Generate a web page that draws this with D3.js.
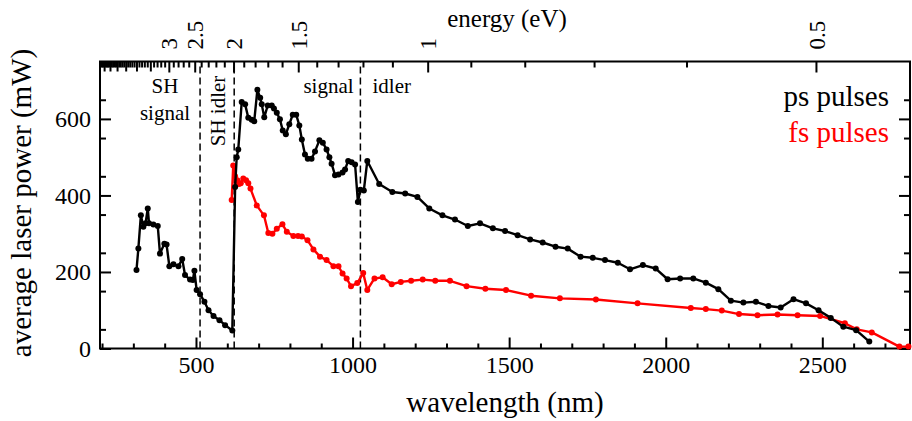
<!DOCTYPE html>
<html>
<head>
<meta charset="utf-8">
<script src="https://cdn.jsdelivr.net/npm/d3@7"></script>
<style>
  body { margin: 0; background: #fff; }
</style>
</head>
<body>
<div id="chart"></div>
<script>
// ps pulses (black)
const psWavelength = [310, 316, 324, 332, 339, 346, 350, 364, 378, 385, 399, 406, 415, 428, 444, 456, 465, 481, 490, 495,
  502, 513, 527, 540, 556, 575, 593, 616, 625, 630, 635, 646, 657, 667, 678, 686, 696, 705, 710, 718,
  729, 742, 749, 758, 768, 777, 787, 798, 809, 820, 830, 838, 848, 857, 869, 880, 894, 905, 917, 926,
  933, 944, 955, 968, 976, 986, 997, 1008, 1017, 1025, 1036, 1047, 1085, 1127, 1168, 1207, 1245, 1287, 1327, 1368,
  1407, 1448, 1487, 1527, 1567, 1607, 1648, 1687, 1728, 1767, 1806, 1847, 1886, 1927, 1968, 2006, 2046, 2088, 2128, 2168,
  2208, 2248, 2288, 2328, 2367, 2408, 2448, 2488, 2527, 2567, 2608, 2650];
const psPower = [205, 261, 348, 318, 327, 366, 327, 324, 320, 248, 274, 272, 215, 220, 215, 234, 192, 180, 179, 203,
  153, 142, 122, 100, 85, 74, 61, 47, 422, 500, 520, 644, 638, 603, 598, 594, 676, 655, 638, 604,
  635, 635, 627, 616, 599, 570, 560, 586, 611, 611, 583, 546, 507, 496, 496, 515, 544, 538, 520, 500,
  483, 453, 455, 460, 468, 490, 487, 481, 383, 415, 413, 490, 430, 409, 405, 396, 366, 348, 337, 320,
  327, 314, 307, 296, 285, 277, 266, 261, 240, 237, 231, 224, 207, 218, 209, 181, 183, 183, 172, 155,
  125, 120, 122, 111, 107, 129, 118, 100, 80, 57, 48, 18];

// fs pulses (red)
const fsWavelength = [614, 619, 625, 632, 637, 643, 651, 660, 667, 674, 694, 717, 731, 744, 758, 776, 790, 811, 826, 838,
  856, 875, 896, 917, 939, 955, 968, 981, 995, 1015, 1034, 1047, 1070, 1096, 1125, 1154, 1187, 1224, 1264, 1311,
  1364, 1424, 1490, 1570, 1662, 1777, 1910, 2080, 2128, 2179, 2234, 2293, 2357, 2421, 2493, 2572, 2610, 2658, 2746, 2775];
const fsPower = [388, 478, 450, 440, 430, 432, 444, 440, 432, 418, 374, 348, 302, 300, 313, 325, 305, 294, 294, 293,
  283, 259, 240, 231, 215, 215, 196, 183, 163, 171, 197, 153, 183, 186, 168, 174, 177, 180, 177, 177,
  163, 156, 153, 138, 131, 128, 118, 106, 103, 99, 90, 87, 89, 87, 85, 66, 50, 42, 5, 5];

const wavelengthTicks = [500, 1000, 1500, 2000, 2500];
const energyTicks = [3, 2.5, 2, 1.5, 1, 0.5];
const powerTicks = [0, 200, 400, 600];
const regionBounds = [513, 622, 1025];

const hc = 1239.84; // eV * nm
const serif = '"Liberation Serif", "Times New Roman", serif';

const width = 912;
const height = 421;
const plot = { left: 100, right: 910, top: 61.5, bottom: 348.5 };

const svg = d3.select('#chart')
  .append('svg')
  .attr('width', width)
  .attr('height', height)
  .attr('font-family', serif);

const x = d3.scaleLinear().domain([193.5, 2780]).range([plot.left, plot.right]);
const y = d3.scaleLinear().domain([0, 750]).range([plot.bottom, plot.top]);

function styleAxis(g) {
  g.attr('font-family', serif);
  g.select('.domain').remove();
  g.selectAll('line').attr('stroke', '#000').attr('stroke-width', 2);
  g.selectAll('text')
    .style('font-family', serif)
    .style('font-size', '24px')
    .attr('fill', '#000');
}

function addText(tx, ty, str, size, opts = {}) {
  return svg.append('text')
    .attr('transform', opts.rotate ? `translate(${tx},${ty}) rotate(-90)` : `translate(${tx},${ty})`)
    .attr('text-anchor', opts.anchor || 'middle')
    .attr('dy', opts.dy || null)
    .style('font-family', serif)
    .style('font-size', size)
    .style('fill', opts.color || '#000')
    .text(str);
}

// bottom axis
svg.append('g')
  .attr('transform', `translate(0,${plot.bottom})`)
  .call(d3.axisBottom(x).tickValues(d3.range(200, 2780, 100).filter(d => d % 500)).tickSize(-5).tickFormat(''))
  .call(styleAxis);
svg.append('g')
  .attr('transform', `translate(0,${plot.bottom})`)
  .call(d3.axisBottom(x).tickValues(wavelengthTicks).tickSize(-11).tickPadding(7).tickFormat(d3.format('d')))
  .call(styleAxis);

// left / right axes
svg.append('g')
  .attr('transform', `translate(${plot.left},0)`)
  .call(d3.axisLeft(y).tickValues(d3.range(50, 750, 100)).tickSize(-6).tickFormat(''))
  .call(styleAxis);
svg.append('g')
  .attr('transform', `translate(${plot.left},0)`)
  .call(d3.axisLeft(y).tickValues(powerTicks).tickSize(-11).tickPadding(9).tickFormat(d3.format('d')))
  .call(styleAxis);
svg.append('g')
  .attr('transform', `translate(${plot.right},0)`)
  .call(d3.axisRight(y).tickValues(d3.range(50, 750, 100)).tickSize(-6).tickFormat(''))
  .call(styleAxis);
svg.append('g')
  .attr('transform', `translate(${plot.right},0)`)
  .call(d3.axisRight(y).tickValues(powerTicks).tickSize(-11).tickFormat(''))
  .call(styleAxis);

// top axis: photon energy
const energyMinor = d3.range(5, 64).map(d => d / 10).filter(e => Math.round(e * 10) % 5 !== 0);
const energyHalf = d3.range(3.5, 6.5, 0.5);
svg.append('g')
  .attr('transform', `translate(0,${plot.top})`)
  .call(d3.axisTop(x).tickValues(energyMinor.map(e => hc / e)).tickSize(-6).tickFormat(''))
  .call(styleAxis);
svg.append('g')
  .attr('transform', `translate(0,${plot.top})`)
  .call(d3.axisTop(x).tickValues(energyHalf.map(e => hc / e)).tickSize(-10).tickFormat(''))
  .call(styleAxis);
svg.append('g')
  .attr('transform', `translate(0,${plot.top})`)
  .call(d3.axisTop(x).tickValues(energyTicks.map(e => hc / e)).tickSize(-11)
    .tickFormat(d => String(+(hc / d).toFixed(1))))
  .call(styleAxis)
  .call(g => g.selectAll('text')
    .attr('transform', 'rotate(-90)')
    .attr('x', 12)
    .attr('y', 0)
    .attr('dy', '0.35em')
    .style('font-size', '23px')
    .style('text-anchor', 'start'));

// frame
svg.append('rect')
  .attr('x', plot.left)
  .attr('y', plot.top)
  .attr('width', plot.right - plot.left)
  .attr('height', plot.bottom - plot.top)
  .attr('fill', 'none')
  .attr('stroke', '#000')
  .attr('stroke-width', 2);

// region boundaries
svg.selectAll('.bound')
  .data(regionBounds)
  .join('line')
  .attr('class', 'bound')
  .attr('x1', d => x(d))
  .attr('x2', d => x(d))
  .attr('y1', y(0))
  .attr('y2', y(750))
  .attr('stroke', '#000')
  .attr('stroke-width', 1.5)
  .attr('stroke-dasharray', '7,4');

// region labels
addText(x(401), 93, 'SH', '21px');
addText(x(401), 120, 'signal', '21px');
addText(218, 111, 'SH idler', '21px', { rotate: true, dy: '0.35em' });
addText(x(923), 93, 'signal', '21px');
addText(x(1125), 93, 'idler', '21px');

// series
function drawSeries(xs, ys, color) {
  const pts = xs.map((w, i) => [w, ys[i]]);
  svg.append('path')
    .datum(pts)
    .attr('fill', 'none')
    .attr('stroke', color)
    .attr('stroke-width', 2.4)
    .attr('stroke-linejoin', 'round')
    .attr('d', d3.line().x(d => x(d[0])).y(d => y(d[1])));
  svg.append('g')
    .selectAll('circle')
    .data(pts)
    .join('circle')
    .attr('cx', d => x(d[0]))
    .attr('cy', d => y(d[1]))
    .attr('r', 3)
    .attr('fill', color);
}
drawSeries(fsWavelength, fsPower, '#ff0000');
drawSeries(psWavelength, psPower, '#000');

// legend
addText(889, 106, 'ps pulses', '29px', { anchor: 'end' });
addText(889, 142, 'fs pulses', '29px', { anchor: 'end', color: '#ff0000' });

// axis titles
addText(505, 412, 'wavelength (nm)', '29px');
addText(507, 27, 'energy (eV)', '25px');
addText(31, 203, 'average laser power (mW)', '29px', { rotate: true });
</script>
</body>
</html>
